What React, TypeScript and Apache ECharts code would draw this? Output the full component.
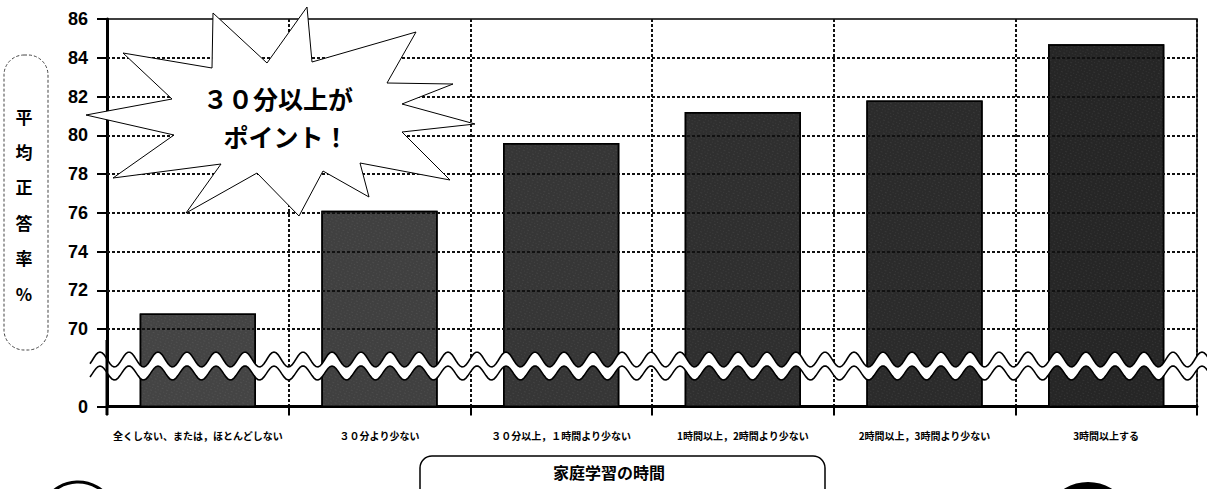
import React, { useEffect, useRef } from "react";
import * as echarts from "echarts";

// ---------- data ----------
const categories = [
  "全くしない、または，ほとんどしない",
  "３０分より少ない",
  "３０分以上，１時間より少ない",
  "1時間以上，2時間より少ない",
  "2時間以上，3時間より少ない",
  "3時間以上する",
];
const values = [70.8, 76.1, 79.6, 81.2, 81.8, 84.7];
const yTickValues = [0, 70, 72, 74, 76, 78, 80, 82, 84, 86];
const gridValues = [70, 72, 74, 76, 78, 80, 82, 84];
const BREAK_BASE = 66; // axis position at which "0" is drawn (below the break)
const yTitle = ["平", "均", "正", "答", "率", "%"];
const xTitle = "家庭学習の時間";
const calloutLines = ["３０分以上が", "ポイント！"];

const barColors = ["#444444", "#404040", "#363636", "#2f2f2f", "#2b2b2b", "#262626"];

// ---------- decoration helpers ----------
function wave(cy: number, amp: number) {
  const pts: number[][] = [];
  for (let x = 90; x <= 1208; x += 2) {
    pts.push([x, cy - amp * Math.cos((2 * Math.PI * (x - 100)) / 29)]);
  }
  return pts;
}
const upperWave = wave(359.5, 7.5);
const lowerWave = wave(373, 7);
const band = upperWave.concat(lowerWave.slice().reverse());

const starPoints = [
  [307, 7], [312, 62], [416, 32], [387, 83], [453, 84], [402, 104],
  [475, 124], [402, 132], [450, 180], [360, 163], [369, 197], [323, 171],
  [299, 216], [257, 173], [186, 213], [221, 164], [113, 178], [174, 135],
  [86, 115], [172, 99], [123, 53], [212, 68], [213, 13], [267, 63],
];

const JP = '"Noto Sans CJK JP", "Noto Sans", sans-serif';
const LAT = '"Liberation Sans", Arial, sans-serif';

const axisTickValues = yTickValues.map((v) => (v === 0 ? BREAK_BASE : v));
const dash = { type: [3, 2] as number[], color: "#111", width: 2 };

const option: any = {
  animation: false,
  backgroundColor: "#fff",
  grid: {
    left: 107,
    top: 19,
    right: 10,
    bottom: 82.5,
    show: true,
    borderColor: "#000",
    borderWidth: 1.5,
    backgroundColor: "transparent",
  },
  xAxis: {
    type: "category",
    data: categories,
    axisLine: { show: true, lineStyle: { color: "#000", width: 3 } },
    axisTick: { show: true, interval: 0, length: 9, lineStyle: { color: "#000", width: 2 } },
    axisLabel: {
      interval: 0,
      margin: 24,
      color: "#000",
      fontSize: 10,
      fontWeight: "bold",
      fontFamily: JP,
    },
    splitLine: { show: true, interval: 0, lineStyle: dash },
  },
  yAxis: {
    type: "value",
    min: BREAK_BASE,
    max: 86,
    interval: 2,
    axisLine: { show: true, lineStyle: { color: "#000", width: 3 } },
    axisTick: {
      show: true,
      customValues: axisTickValues,
      length: 10,
      lineStyle: { color: "#000", width: 2 },
    },
    axisLabel: {
      customValues: axisTickValues,
      formatter: (v: number) => (v === BREAK_BASE ? "0" : String(v)),
      margin: 19,
      color: "#000",
      fontSize: 18,
      fontWeight: "bold",
      fontFamily: LAT,
    },
    splitLine: { show: false },
  },
  series: [
    {
      type: "line",
      data: values,
      z: 1,
      showSymbol: false,
      symbol: "none",
      silent: true,
      lineStyle: { opacity: 0 },
      markLine: {
        silent: true,
        symbol: ["none", "none"],
        label: { show: false },
        lineStyle: dash,
        data: gridValues.map((v) => ({ yAxis: v })),
      },
    },
    {
      type: "bar",
      data: values,
      z: 2,
      barWidth: "64%",
      itemStyle: {
        color: (p: any) => barColors[p.dataIndex],
        borderColor: "#000",
        borderWidth: 1.5,
        decal: {
          symbol: "rect",
          symbolSize: 0.7,
          color: "rgba(255,255,255,0.18)",
          dashArrayX: [[1, 2], [2, 3]],
          dashArrayY: [1, 2],
          rotation: 0.4,
        },
      },
    },
  ],
  graphic: [
    // axis break band
    { type: "polygon", z: 50, silent: true, shape: { points: band }, style: { fill: "#fff", stroke: "none" } },
    { type: "polyline", z: 51, silent: true, shape: { points: upperWave }, style: { stroke: "#000", lineWidth: 1.6, fill: "none" } },
    { type: "polyline", z: 51, silent: true, shape: { points: lowerWave }, style: { stroke: "#000", lineWidth: 1.6, fill: "none" } },
    { type: "line", z: 52, silent: true, shape: { x1: 107, y1: 340, x2: 107, y2: 415 }, style: { stroke: "#000", lineWidth: 3 } },
    // starburst callout
    { type: "polygon", z: 60, shape: { points: starPoints }, style: { fill: "#fff", stroke: "#000", lineWidth: 1 } },
    {
      type: "text", z: 61, x: 278, y: 98,
      style: { text: calloutLines[0], fontSize: 25, fontWeight: "bold", fontFamily: JP, fill: "#000", textAlign: "center", textVerticalAlign: "middle" },
    },
    {
      type: "text", z: 61, x: 286, y: 136,
      style: { text: calloutLines[1], fontSize: 25, fontWeight: "bold", fontFamily: JP, fill: "#000", textAlign: "center", textVerticalAlign: "middle" },
    },
    // y-axis title box
    { type: "rect", z: 5, shape: { x: 4, y: 55, width: 44, height: 295, r: 20 }, style: { fill: "none", stroke: "#444", lineWidth: 1, lineDash: [3, 2] } },
    ...yTitle.map((ch, i) => ({
      type: "text", z: 6, x: 24, y: 116 + i * 35.4,
      style: { text: ch, fontSize: 17, fontWeight: "bold", fontFamily: JP, fill: "#000", textAlign: "center", textVerticalAlign: "middle" },
    })),
    // x-axis title box
    { type: "rect", z: 5, shape: { x: 420, y: 456, width: 405, height: 60, r: 12 }, style: { fill: "none", stroke: "#000", lineWidth: 1.5 } },
    {
      type: "text", z: 6, x: 609, y: 472,
      style: { text: xTitle, fontSize: 16, fontWeight: "bold", fontFamily: JP, fill: "#000", textAlign: "center", textVerticalAlign: "middle" },
    },
    // partial shapes at the bottom edge
    { type: "circle", z: 5, shape: { cx: 78, cy: 520, r: 38 }, style: { fill: "none", stroke: "#000", lineWidth: 3 } },
    { type: "circle", z: 5, shape: { cx: 1088, cy: 528, r: 46 }, style: { fill: "#000", stroke: "none" } },
  ],
};

export default function App() {
  const ref = useRef<HTMLDivElement>(null);
  useEffect(() => {
    document.body.style.margin = "0";
    const chart = echarts.init(ref.current!, null, { renderer: "svg" });
    chart.setOption(option);
    return () => chart.dispose();
  }, []);
  return <div ref={ref} style={{ width: 1207, height: 489 }} />;
}
